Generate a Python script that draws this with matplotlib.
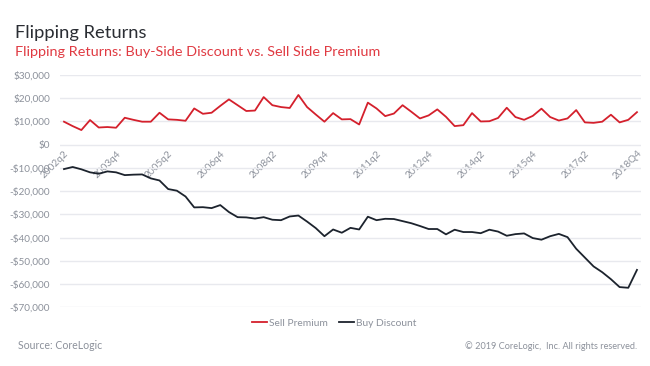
import matplotlib
matplotlib.use("Agg")
import matplotlib.pyplot as plt
from matplotlib.ticker import FuncFormatter

quarters = []
for yr in range(2002, 2019):
    for q in range(1, 5):
        if (yr == 2002 and q < 2):
            continue
        quarters.append(f"{yr}q{q}")
tick_labels = ["2002q2", "2003q4", "2005q2", "2006q4", "2008q2", "2009q4",
               "2011q2", "2012q4", "2014q2", "2015q4", "2017q2", "2018Q4"]
tick_index = [quarters.index(t.lower()) for t in tick_labels]

sell_premium = [9900, 8000, 6300, 10600, 7400, 7600, 7300, 11600, 10700, 9900,
                9900, 13750, 10900, 10700, 10300, 15600, 13300, 13750, 16700, 19500,
                17000, 14500, 14700, 20500, 17000, 16200, 15800, 21400, 16200, 13000,
                9900, 13600, 10900, 11000, 8700, 18100, 15600, 12300, 13400, 17000,
                14200, 11300, 12600, 15200, 12000, 8000, 8400, 13600, 10000, 10100,
                11500, 15900, 11900, 10700, 12400, 15500, 11900, 10400, 11300, 14900,
                9600, 9400, 9900, 12900, 9600, 10700, 14000]
buy_discount = [-10500, -9600, -10600, -11900, -12500, -11500, -11900, -13100, -12900, -12800,
                -14500, -15400, -19100, -19800, -22300, -27000, -26900, -27300, -26000, -29000,
                -31200, -31300, -31800, -31200, -32300, -32500, -30900, -30500, -33100, -35900,
                -39400, -36500, -37900, -35800, -36500, -31000, -32500, -31900, -32000, -32900,
                -33800, -35000, -36300, -36300, -38600, -36600, -37600, -37600, -38100, -36600,
                -37400, -39200, -38500, -38200, -40200, -40900, -39400, -38400, -39800, -44800,
                -48600, -52400, -54900, -57900, -61300, -61600, -53900]

y_ticks = list(range(-70000, 30001, 10000))

plt.rcParams['font.family'] = ['Lato', 'DejaVu Sans']
gray = "#8c919b"
fig = plt.figure(figsize=(6.5, 3.66), dpi=100)
ax = fig.add_axes([60/650, 1-307.3/366, (640.7-60)/650, (307.3-75)/366])

x = list(range(len(quarters)))
ax.plot(x, sell_premium, color="#d4202c", lw=1.3, label="Sell Premium")
ax.plot(x, buy_discount, color="#1c232d", lw=1.3, label="Buy Discount")

ax.set_xlim(-0.46, len(quarters) - 1 + 0.43)
ax.set_ylim(-70000, 30000)
ax.set_yticks(y_ticks)
ax.yaxis.set_major_formatter(FuncFormatter(
    lambda v, p: f"${v:,.0f}" if v >= 0 else f"-${-v:,.0f}"))
ax.grid(axis='y', color="#e8e9ee", lw=1)
ax.set_axisbelow(True)
for s in ax.spines.values():
    s.set_visible(False)
ax.spines['bottom'].set_position(('data', 0))
ax.tick_params(axis='both', length=0, colors=gray, labelsize=7.2)
ax.tick_params(axis='y', pad=7)
ax.set_xticks(tick_index)
ax.set_xticklabels(tick_labels, rotation=45, ha='right', rotation_mode='anchor')
ax.tick_params(axis='x', pad=3)

fig.text(15/650, 1-38/366, "Flipping Returns", fontsize=13.2, color="#2a2d33")
fig.text(15/650, 1-56/366, "Flipping Returns: Buy-Side Discount vs. Sell Side Premium",
         fontsize=10.4, color="#e03a42")
fig.legend(loc='center', bbox_to_anchor=(334/650, 1-323/366), ncol=2, frameon=False,
           fontsize=7.4, labelcolor=gray, handlelength=1.5, handletextpad=0.15,
           columnspacing=1.1)
fig.text(18/650, 1-349/366, "Source: CoreLogic", fontsize=7.6, color=gray)
fig.text(637/650, 1-349/366, "© 2019 CoreLogic,  Inc. All rights reserved.", fontsize=6.6,
         color=gray, ha='right')

fig.savefig("out.png", dpi=100)
